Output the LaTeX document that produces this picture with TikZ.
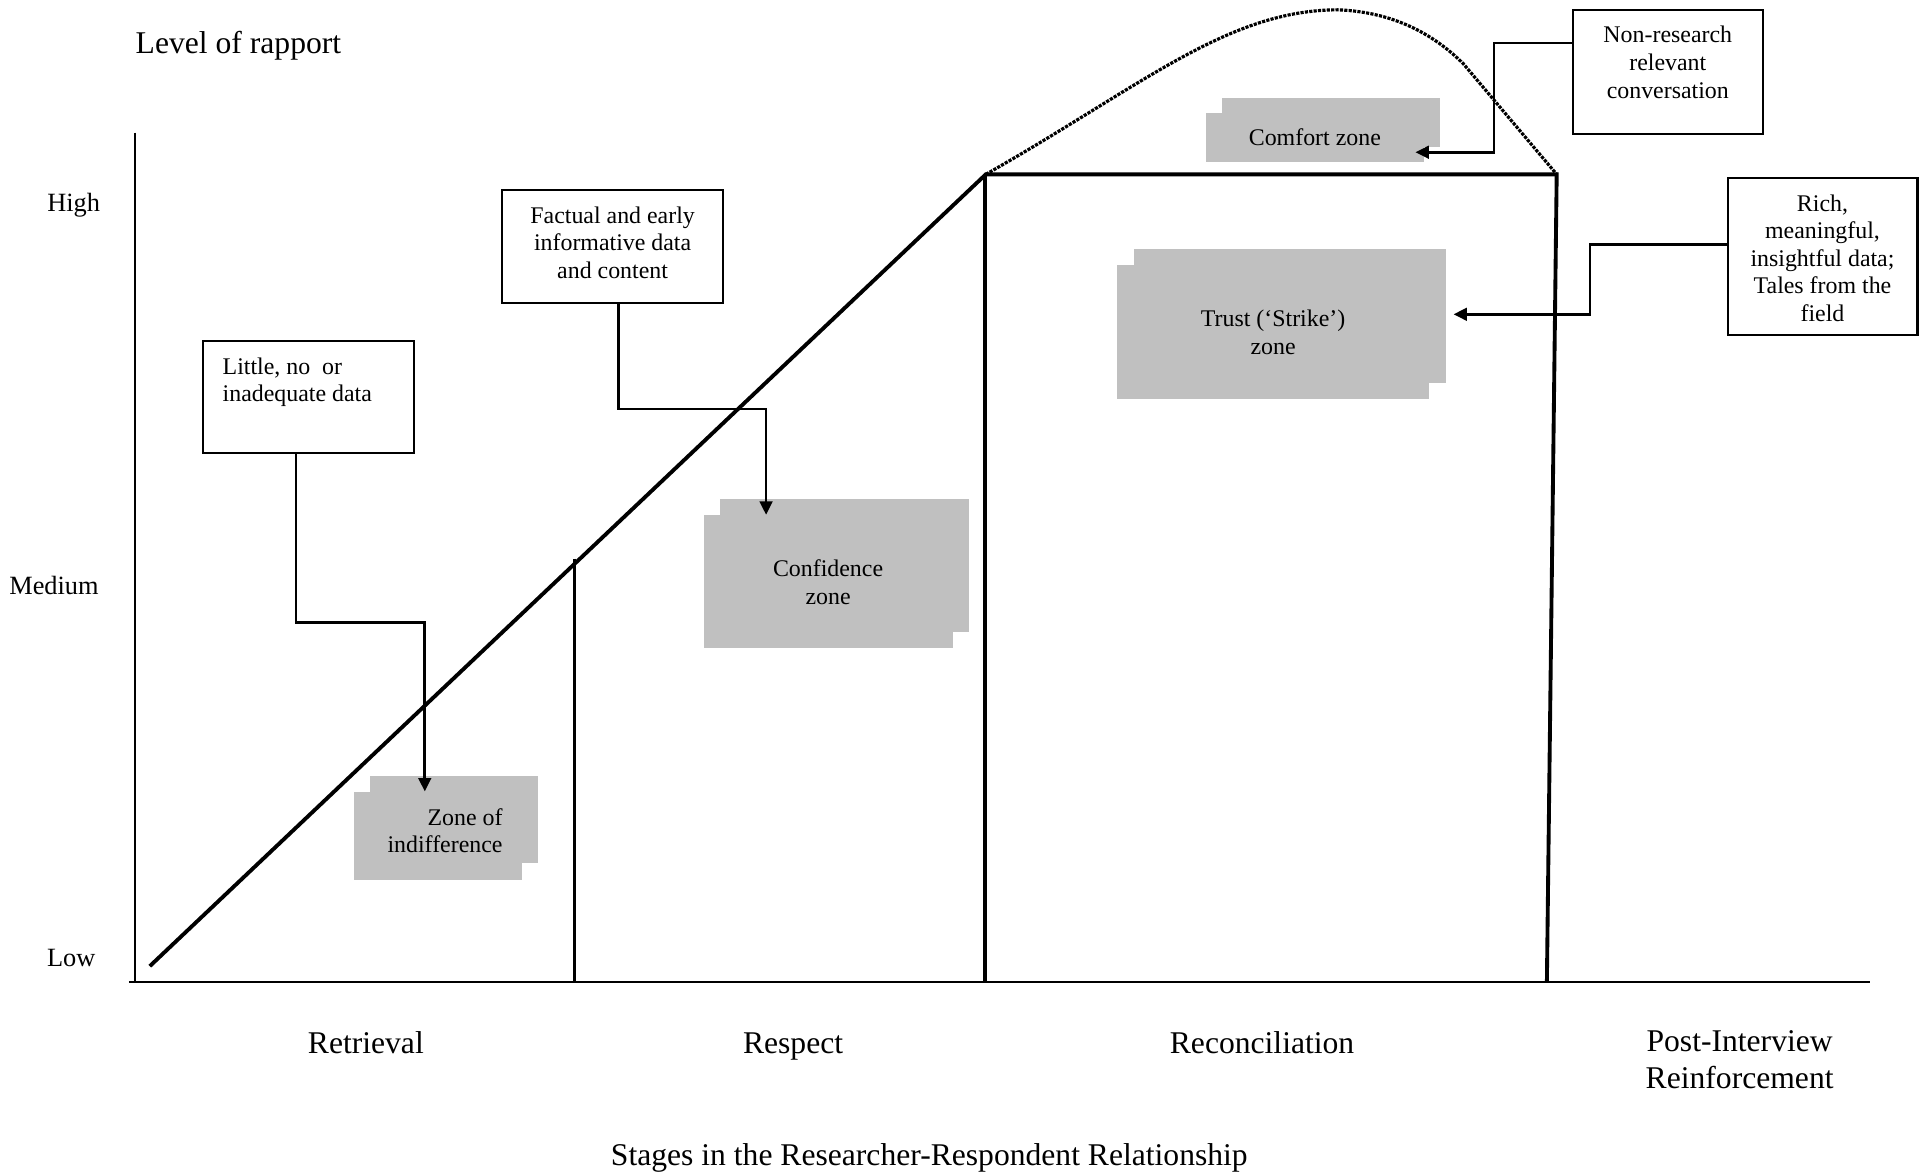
\documentclass[tikz,border=0pt]{standalone}
\usepackage{fontspec}
\setmainfont{Liberation Serif}
\usetikzlibrary{arrows.meta}
\definecolor{zonegray}{RGB}{192,192,192}
\newcommand{\boxfont}{\fontsize{6.8}{7.85}\selectfont}
\newcommand{\axisfont}{\fontsize{7.5}{9}\selectfont}
\newcommand{\stagefont}{\fontsize{9}{10.4}\selectfont}
\tikzset{
  box/.style={draw, line width=0.6pt, inner xsep=0.1cm, inner ysep=0.165cm, font=\boxfont},
  zone/.style={fill=zonegray, inner sep=0pt, font=\boxfont, align=center},
  link/.style={line width=0.75pt, -{Triangle[length=3.8pt,width=3.6pt]}},
  limit/.style={line width=1.1pt},
  stagelabel/.style={font=\stagefont, text height=6.3pt, text depth=2pt},
}
\begin{document}
\begin{tikzpicture}[x=0.012277cm, y=-0.012277cm]
\useasboundingbox (0,0) rectangle (1568,957);
% axes
\draw [line width=0.6pt] (110,108) -- (110,800);
\draw [line width=0.6pt] (105,800) -- (1523,800);
\node [font=\stagefont, anchor=west, inner sep=0pt] (title) at (110,37) {Level of rapport};
\node [font=\axisfont] (high) at (60,167) {High};
\node [font=\axisfont] (medium) at (44,477) {Medium};
\node [font=\axisfont] (low) at (58,780) {Low};
% rapport line and stage limits
\draw [limit] (122,787) -- (803,142) -- (1268,142) -- (1260,800);
\draw [limit] (468,455) -- (468,800);
\draw [limit] (802,142) -- (802,800);
% dotted hump over the comfort zone
\draw [line width=0.9pt, dash pattern=on 0.9pt off 0.35pt] (803,142) .. controls (930,70) and (1000,8) .. (1090,8)
  .. controls (1140,10) and (1172,32) .. (1192,52) -- (1268,142);
% zones (shadow first)
\node [zone, minimum width=1.68cm, minimum height=0.88cm] (indiffback) at (369.5,667.5) {};
\node [zone, minimum width=1.68cm, minimum height=0.88cm] (indiff) at (356.5,681) {};
\node [font=\boxfont, align=right] (indifftext) at ([shift={(6,-4.5)}]indiff.center) {Zone of\\indifference};
\node [zone, minimum width=2.49cm, minimum height=1.33cm] (confback) at (688,460.5) {};
\node [zone, minimum width=2.49cm, minimum height=1.33cm] (conf) at (674.5,474) {Confidence\\zone};
\node [zone, minimum width=2.18cm, minimum height=0.49cm] (comfortback) at (1084.5,100) {};
\node [zone, minimum width=2.18cm, minimum height=0.49cm] (comfort) at (1071,112) {Comfort zone};
\node [zone, minimum width=3.12cm, minimum height=1.34cm] (trustback) at (1050.5,257.5) {};
\node [zone, minimum width=3.12cm, minimum height=1.34cm] (trust) at (1037,270.5) {Trust (‘Strike’)\\zone};
% data boxes
\node [box, inner xsep=0.2cm] (little) at (251,323.5) {\parbox[c][0.79cm][t]{1.71cm}{\raggedright Little, no\ \ or\\inadequate data}};
\node [box] (factual) at (499,201) {\parbox[c][0.80cm][t]{2.01cm}{\centering Factual and early\\informative data\\and content}};
\node [box] (nonres) at (1358.5,58.5) {\parbox[c][0.91cm][t]{1.70cm}{\centering Non-research\\relevant\\conversation}};
\node [box] (rich) at (1484.5,209) {\parbox[c][1.24cm][t]{1.70cm}{\centering Rich,\\meaningful,\\insightful data;\\Tales from the\\field}};
% links
\coordinate (k1) at (241,507);
\coordinate (k2) at (346,507);
\draw [link] (little.south -| k1) -- (k1) -- (k2) -- (k2 |- indiff.north);
\coordinate (k3) at (504,333);
\coordinate (k4) at (624,333);
\draw [link] (factual.south -| k3) -- (k3) -- (k4) -- (k4 |- conf.north);
\coordinate (k5) at (1217,35);
\coordinate (k6) at (1153,124);
\draw [link] (nonres.west |- k5) -- (k5) |- (k6);
\coordinate (k7) at (1295,199);
\coordinate (k8) at (1184,256);
\draw [link] (rich.west |- k7) -- (k7) |- (k8);
% stages
\node [stagelabel] (retrieval) at (298,852) {Retrieval};
\node [stagelabel] (respect) at (646,852) {Respect};
\node [stagelabel] (reconc) at (1028,852) {Reconciliation};
\node [font=\stagefont, align=center] (postint) at (1417,863) {Post-Interview\\Reinforcement};
\node [stagelabel] (stages) at (757,943) {Stages in the Researcher-Respondent Relationship};
\end{tikzpicture}
\end{document}
